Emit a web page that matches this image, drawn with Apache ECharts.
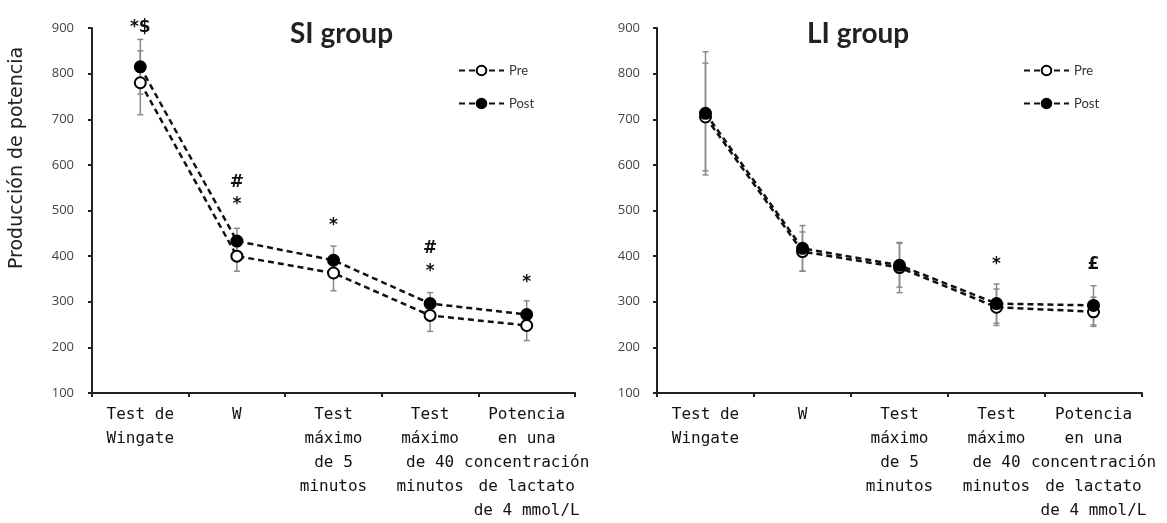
<!DOCTYPE html>
<html>
<head>
<meta charset="utf-8">
<script src="https://cdn.jsdelivr.net/npm/echarts@6/dist/echarts.min.js"></script>
<style>
  html, body { margin: 0; padding: 0; background: #fff; }
  #chart { width: 1167px; height: 523px; }
</style>
</head>
<body>
<div id="chart"></div>
<script>
const categories = [
  'Test de\nWingate',
  'W',
  'Test\nmáximo\nde 5\nminutos',
  'Test\nmáximo\nde 40\nminutos',
  'Potencia\nen una\nconcentración\nde lactato\nde 4 mmol/L'
]
const yTicks = [100, 200, 300, 400, 500, 600, 700, 800, 900]

// SI group
const siPre = [780, 400, 363, 270, 248]
const siPost = [815, 433, 391, 296, 272]
const siPreSD = [70, 33, 39, 35, 33]
const siPostSD = [60, 28, 31, 24, 30]
// [category index, value, text]
const siNotes = [[0, 900, '*$'], [1, 562, '#'], [1, 514, '*'], [2, 466, '*'], [3, 416, '#'], [3, 366, '*'], [4, 342, '*']]

// LI group
const liPre = [705, 410, 375, 288, 278]
const liPost = [713, 417, 380, 296, 292]
const liPreSD = [118, 43, 55, 40, 32]
const liPostSD = [135, 50, 48, 43, 43]
const liNotes = [[3, 381, '*'], [4, 381, '£']]

const chart = echarts.init(document.getElementById('chart'))

function errData(mean, sd) {
  return mean.map((m, i) => [i, m - sd[i], m + sd[i]])
}

function renderErr(params, api) {
  const lo = api.coord([api.value(0), api.value(1)])
  const hi = api.coord([api.value(0), api.value(2)])
  const style = { stroke: '#8a8a8a', lineWidth: 1.5 }
  return {
    type: 'group',
    children: [
      { type: 'line', shape: { x1: lo[0], y1: lo[1], x2: hi[0], y2: hi[1] }, style: style },
      { type: 'line', shape: { x1: lo[0] - 3, y1: lo[1], x2: lo[0] + 3, y2: lo[1] }, style: style },
      { type: 'line', shape: { x1: hi[0] - 3, y1: hi[1], x2: hi[0] + 3, y2: hi[1] }, style: style }
    ]
  }
}

const notesFor = { siNotes: siNotes, liNotes: liNotes }

function renderNote(params, api) {
  const p = api.coord([api.value(0), api.value(1)])
  return {
    type: 'text',
    x: p[0],
    y: p[1],
    style: {
      text: String(notesFor[params.seriesId][params.dataIndex][2]),
      align: 'center',
      verticalAlign: 'middle',
      fontSize: 17,
      fontWeight: 'bold',
      fontFamily: 'DejaVu Sans',
      fill: '#111'
    }
  }
}

function xAxisOf(grid) {
  return {
    type: 'category',
    gridIndex: grid,
    data: categories,
    boundaryGap: true,
    axisLine: { lineStyle: { color: '#222', width: 2 } },
    axisTick: { show: true, length: 4, lineStyle: { color: '#222', width: 2 } },
    axisLabel: {
      interval: 0,
      margin: 10,
      fontSize: 16,
      lineHeight: 24,
      fontFamily: 'DejaVu Sans Mono',
      color: '#111',
      align: 'center'
    },
    splitLine: { show: false }
  }
}

function yAxisOf(grid, margin) {
  return {
    type: 'value',
    gridIndex: grid,
    min: yTicks[0],
    max: yTicks[yTicks.length - 1],
    interval: 100,
    axisLine: { show: true, lineStyle: { color: '#222', width: 2 } },
    axisTick: { show: true, length: 4, lineStyle: { color: '#222', width: 2 } },
    axisLabel: { margin: margin, fontSize: 13, fontFamily: 'Open Sans', color: '#444' },
    splitLine: { show: false }
  }
}

function lineSeries(name, data, grid, filled) {
  return {
    name: name,
    type: 'line',
    xAxisIndex: grid,
    yAxisIndex: grid,
    data: data,
    symbol: 'circle',
    symbolSize: 11,
    showAllSymbol: true,
    z: filled ? 4 : 3,
    lineStyle: { color: '#111', width: 2.5, type: [6, 4] },
    itemStyle: { color: filled ? '#000' : '#fff', borderColor: '#000', borderWidth: 2 },
    emphasis: { disabled: true },
    animation: false
  }
}

function errSeries(data, grid) {
  return {
    type: 'custom',
    xAxisIndex: grid,
    yAxisIndex: grid,
    data: data,
    renderItem: renderErr,
    z: 1,
    silent: true,
    animation: false
  }
}

function noteSeries(id, data, grid) {
  return {
    id: id,
    type: 'custom',
    xAxisIndex: grid,
    yAxisIndex: grid,
    data: data.map(d => [d[0], d[1]]),
    renderItem: renderNote,
    z: 5,
    silent: true,
    animation: false
  }
}

const legendText = { fontSize: 13, fontFamily: 'Lato', color: '#333' }
const titleText = { fontSize: 28, fontWeight: 'bold', fontFamily: 'Lato', color: '#222' }

chart.setOption({
  animation: false,
  title: [
    { text: 'SI group', left: 285, top: 15, textStyle: titleText },
    { text: 'LI group', left: 802, top: 15, textStyle: titleText }
  ],
  legend: [
    { left: 453, top: 59, orient: 'vertical', itemWidth: 45, itemHeight: 12, itemGap: 20, data: ['Pre', 'Post'], textStyle: legendText, selectedMode: false },
    { left: 1018, top: 59, orient: 'vertical', itemWidth: 45, itemHeight: 12, itemGap: 20, data: ['Pre', 'Post'], textStyle: legendText, selectedMode: false }
  ],
  graphic: [
    {
      type: 'text',
      x: 17,
      y: 158,
      rotation: Math.PI / 2,
      style: { text: 'Producción de potencia', align: 'center', verticalAlign: 'middle', fontSize: 19, fontFamily: 'DejaVu Sans', fill: '#222' }
    }
  ],
  grid: [
    { left: 92, top: 28, width: 483, height: 367 },
    { left: 657, top: 28, width: 485, height: 367 }
  ],
  xAxis: [xAxisOf(0), xAxisOf(1)],
  yAxis: [yAxisOf(0, 18), yAxisOf(1, 17)],
  series: [
    errSeries(errData(siPre, siPreSD), 0),
    errSeries(errData(siPost, siPostSD), 0),
    lineSeries('Pre', siPre, 0, false),
    lineSeries('Post', siPost, 0, true),
    noteSeries('siNotes', siNotes, 0),
    errSeries(errData(liPre, liPreSD), 1),
    errSeries(errData(liPost, liPostSD), 1),
    lineSeries('Pre', liPre, 1, false),
    lineSeries('Post', liPost, 1, true),
    noteSeries('liNotes', liNotes, 1)
  ]
})
</script>
</body>
</html>
